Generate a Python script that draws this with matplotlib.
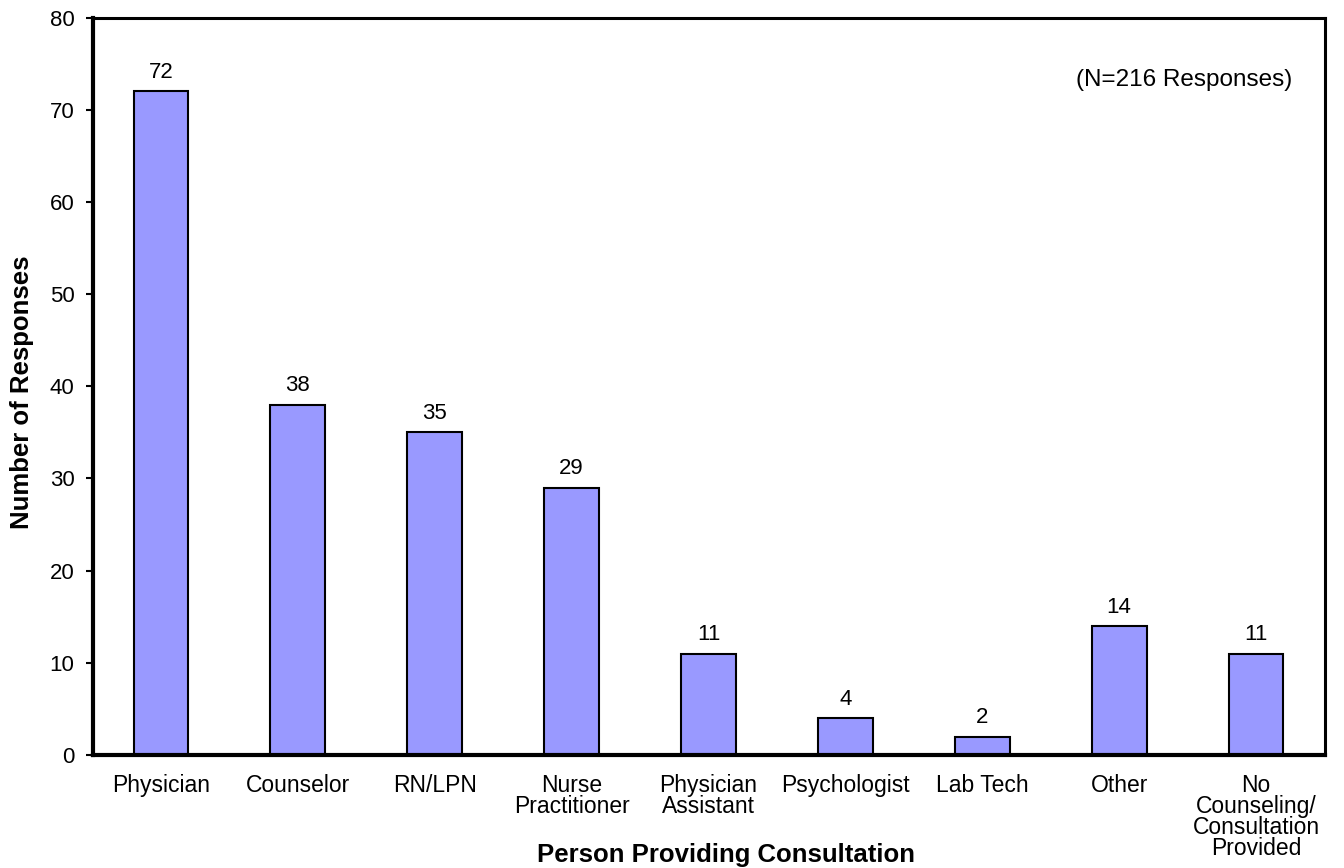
import matplotlib
matplotlib.use("Agg")
import matplotlib.pyplot as plt

plt.rcParams['font.family'] = ['Liberation Sans', 'DejaVu Sans']

categories = ["Physician", "Counselor", "RN/LPN", "Nurse\nPractitioner",
              "Physician\nAssistant", "Psychologist", "Lab Tech", "Other",
              "No\nCounseling/\nConsultation\nProvided"]
responses = [72, 38, 35, 29, 11, 4, 2, 14, 11]
y_ticks = [0, 10, 20, 30, 40, 50, 60, 70, 80]

W, H = 1344, 868
fig = plt.figure(figsize=(W / 100, H / 100), dpi=100)
ax_left, ax_right, ax_top, ax_bottom = 92.5, 1324.5, 17.5, 755
ax = fig.add_axes([ax_left / W, 1 - ax_bottom / H,
                   (ax_right - ax_left) / W, (ax_bottom - ax_top) / H])

x = list(range(len(categories)))
ax.bar(x, responses, width=0.40, color="#9999FF", edgecolor="black",
       linewidth=1.5, zorder=2)

for xi, v in zip(x, responses):
    ax.annotate(str(v), (xi, v), xytext=(0, 6), textcoords="offset points",
                ha="center", va="bottom", fontsize=16)

ax.set_xlim(-0.5, len(categories) - 0.5)
ax.set_ylim(0, 80)
ax.set_yticks(y_ticks)
ax.tick_params(axis="y", labelsize=16, length=5, width=1.5, direction="out",
               pad=8)
ax.set_xticks(x)
ax.set_xticklabels(categories, fontsize=16.5, linespacing=0.9)
ax.tick_params(axis="x", length=0, pad=13.5)

ax.spines["left"].set_linewidth(3)
ax.spines["bottom"].set_linewidth(3)
ax.spines["top"].set_linewidth(2.2)
ax.spines["right"].set_linewidth(2.2)

fig.text(22 / W, 1 - 392 / H, "Number of Responses", rotation=90,
         ha="center", va="center", fontsize=18.5, fontweight="bold")
fig.text(537 / W, 1 - 862 / H, "Person Providing Consultation", ha="left",
         va="baseline", fontsize=18.5, fontweight="bold")

fig.text(1292 / W, 1 - 80 / H, "(N=216 Responses)", ha="right", va="center",
         fontsize=17.5)

fig.savefig("out.png", dpi=100)
